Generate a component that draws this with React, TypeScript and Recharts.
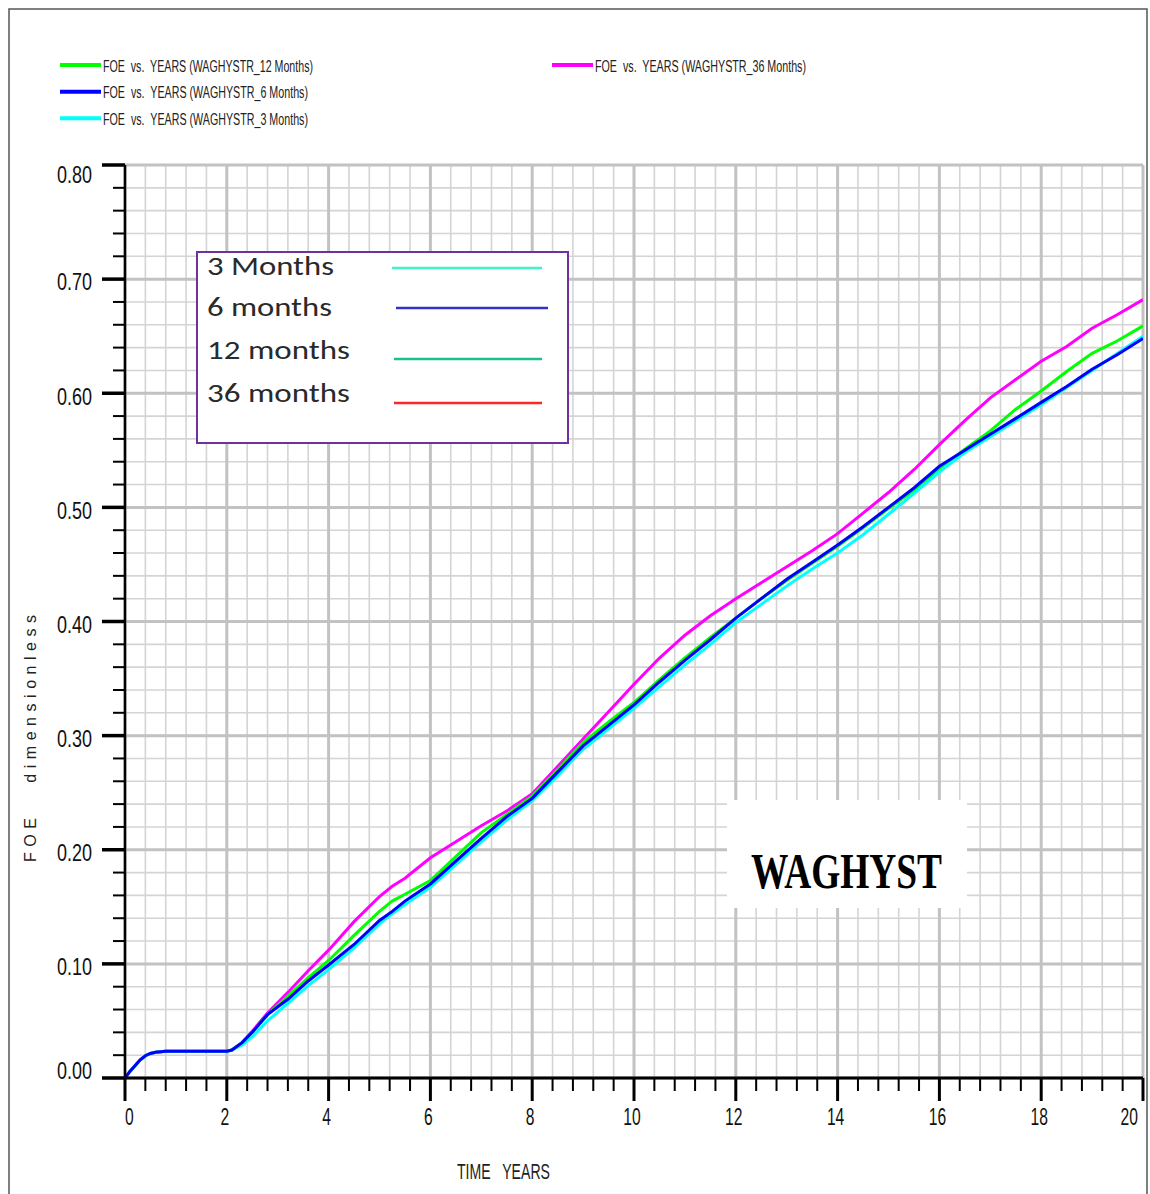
import React from "react";
import { LineChart, Line, XAxis, YAxis, CartesianGrid } from "recharts";

// Simulation time (years) and field oil efficiency (FOE) for each WAG cycle length
const years = [
  0, 0.1, 0.2, 0.3, 0.4, 0.5, 0.6, 0.8, 2.0, 2.1, 2.3, 2.5, 2.8, 3.2, 3.6, 4, 4.5, 5, 5.25, 5.5,
  6, 6.5, 7, 7.5, 8, 8.5, 9, 9.5, 10, 10.5, 11, 11.5, 12, 12.5, 13, 13.5, 14, 14.5, 15, 15.5,
  16, 16.5, 17, 17.5, 18, 18.5, 19, 19.5, 20,
];
const foe36Months = [
  0, 0.006, 0.011, 0.016, 0.0195, 0.0215, 0.0225, 0.0235, 0.0235, 0.0245, 0.031, 0.041, 0.057,
  0.075, 0.094, 0.112, 0.137, 0.159, 0.168, 0.175, 0.193, 0.207, 0.221, 0.234, 0.249, 0.273,
  0.297, 0.321, 0.345, 0.368, 0.388, 0.405, 0.42, 0.434, 0.448, 0.462, 0.477, 0.495, 0.513,
  0.533, 0.555, 0.576, 0.596, 0.612, 0.628, 0.641, 0.657, 0.669, 0.682,
];
const foe12Months = [
  0, 0.006, 0.011, 0.016, 0.0195, 0.0215, 0.0225, 0.0235, 0.0235, 0.0245, 0.031, 0.04, 0.0555,
  0.0715, 0.088, 0.103, 0.125, 0.146, 0.155, 0.161, 0.173, 0.194, 0.215, 0.231, 0.247, 0.27,
  0.294, 0.312, 0.329, 0.349, 0.368, 0.386, 0.403, 0.42, 0.436, 0.451, 0.466, 0.482, 0.499,
  0.515, 0.534, 0.551, 0.567, 0.586, 0.602, 0.619, 0.635, 0.646, 0.659,
];
const foe6Months = [
  0, 0.006, 0.011, 0.016, 0.0195, 0.0215, 0.0225, 0.0235, 0.0235, 0.0245, 0.031, 0.04, 0.0555,
  0.069, 0.085, 0.099, 0.117, 0.138, 0.146, 0.155, 0.17, 0.19, 0.21, 0.229, 0.245, 0.268, 0.291,
  0.309, 0.327, 0.347, 0.366, 0.384, 0.403, 0.42, 0.437, 0.452, 0.467, 0.483, 0.5, 0.517, 0.536,
  0.55, 0.564, 0.578, 0.592, 0.606, 0.621, 0.634, 0.648,
];
const foe3Months = [
  0, 0.006, 0.011, 0.016, 0.0195, 0.0215, 0.0225, 0.0235, 0.0235, 0.0245, 0.029, 0.036, 0.05,
  0.0655, 0.081, 0.095, 0.114, 0.135, 0.144, 0.152, 0.167, 0.187, 0.207, 0.226, 0.243, 0.265,
  0.288, 0.306, 0.324, 0.343, 0.362, 0.38, 0.399, 0.415, 0.431, 0.446, 0.46, 0.476, 0.494,
  0.512, 0.531, 0.548, 0.562, 0.576, 0.59, 0.605, 0.62, 0.635, 0.65,
];

// Axis ticks: minor every 0.4 years / 0.02 FOE, major every 2 years / 0.10 FOE
const xTicks = Array.from({ length: 51 }, (_, i) => (i * 4) / 10);
const xMajorTicks = Array.from({ length: 11 }, (_, i) => i * 2);
const yTicks = Array.from({ length: 41 }, (_, i) => (i * 2) / 100);
const yMajorTicks = Array.from({ length: 9 }, (_, i) => i / 10);

const seriesLabels = [
  "FOE  vs.  YEARS (WAGHYSTR_12 Months)",
  "FOE  vs.  YEARS (WAGHYSTR_6 Months)",
  "FOE  vs.  YEARS (WAGHYSTR_3 Months)",
  "FOE  vs.  YEARS (WAGHYSTR_36 Months)",
];
const boxLabels = ["3 Months", "6 months", "12 months", "36 months"];

const data = years.map((t, i) => ({
  t,
  m36: foe36Months[i],
  m12: foe12Months[i],
  m6: foe6Months[i],
  m3: foe3Months[i],
}));

const NARROW = "'Liberation Sans Narrow', 'Arial Narrow', 'Liberation Sans', Arial, sans-serif";
const isMajor = (v: number, step: number) => Math.abs(v / step - Math.round(v / step)) < 1e-6;

const XTick = (props: any) => {
  const { x, y, payload } = props;
  const v = payload.value as number;
  const major = isMajor(v, 2);
  const label = String(Math.round(v));
  const w = label.length * 8.7;
  let cx = x - 2;
  if (cx - w / 2 < 125) cx = 125 + w / 2;
  if (cx + w / 2 > 1138) cx = 1138 - w / 2;
  return (
    <g>
      <line x1={x} x2={x} y1={y} y2={y + (major ? 23 : 13)} stroke="#000" strokeWidth={major ? 3 : 2} />
      {major && (
        <text
          x={cx}
          y={y + 47}
          textAnchor="middle"
          fontFamily={NARROW}
          fontSize={23}
          fill="#111"
          textLength={w}
          lengthAdjust="spacingAndGlyphs"
        >
          {label}
        </text>
      )}
    </g>
  );
};

const YTick = (props: any) => {
  const { x, y, payload } = props;
  const v = payload.value as number;
  const major = isMajor(v, 0.1);
  let center = y + 3;
  if (v >= 0.8 - 1e-9) center = y + 10;
  if (v <= 1e-9) center = y - 7;
  return (
    <g>
      <line x1={x - (major ? 23 : 12)} x2={x} y1={y} y2={y} stroke="#000" strokeWidth={major ? 3.5 : 2} />
      {major && (
        <text
          x={x - 33}
          y={center + 8.3}
          textAnchor="end"
          fontFamily={NARROW}
          fontSize={23}
          fill="#111"
          textLength={35}
          lengthAdjust="spacingAndGlyphs"
        >
          {v.toFixed(2)}
        </text>
      )}
    </g>
  );
};

const seriesColors = ["#00ff00", "#0000ff", "#00ffff", "#ff00ff"];
const boxColors = ["#40f2cf", "#3434c2", "#1dbf8e", "#ff2626"];

const Overlay = () => {
  const topRows = [
    { x: 60, y: 65, w: 210 },
    { x: 60, y: 91.7, w: 205 },
    { x: 60, y: 118.3, w: 205 },
    { x: 552, y: 65, w: 211 },
  ];
  const boxRows = [
    { base: 275, w: 127, lx1: 392, lx2: 542, ly: 268 },
    { base: 316, w: 125, lx1: 396, lx2: 548, ly: 308 },
    { base: 359, w: 143, lx1: 394, lx2: 542, ly: 359 },
    { base: 401.5, w: 143, lx1: 394, lx2: 542, ly: 403 },
  ];
  return (
    <svg
      width={1150}
      height={1194}
      style={{ position: "absolute", left: 0, top: 0, pointerEvents: "none" }}
    >
      {/* page frame */}
      <path d="M9 1194 V9 H1147 V1194" fill="none" stroke="#555" strokeWidth={1.5} />

      {/* series key */}
      {seriesLabels.map((label, i) => {
        const r = topRows[i];
        return (
          <g key={label}>
            <line x1={r.x} x2={r.x + 41} y1={r.y} y2={r.y} stroke={seriesColors[i]} strokeWidth={4} />
            <text
              x={r.x + 43}
              y={r.y + 6.5}
              fontFamily={NARROW}
              fontSize={16}
              fill="#222"
              textLength={r.w}
              lengthAdjust="spacingAndGlyphs"
              style={{ whiteSpace: "pre" }}
            >
              {label}
            </text>
          </g>
        );
      })}

      {/* cycle-length key box */}
      <rect x={197} y={252} width={371} height={191} fill="#fff" stroke="#7030a0" strokeWidth={2} />
      {boxLabels.map((label, i) => {
        const r = boxRows[i];
        return (
          <g key={label}>
            <text
              x={207}
              y={r.base}
              fontFamily="Carlito, Lato, 'Open Sans', sans-serif"
              fontSize={27}
              fill="#2a2a2a"
              textLength={r.w}
              lengthAdjust="spacingAndGlyphs"
            >
              {label}
            </text>
            <line x1={r.lx1} x2={r.lx2} y1={r.ly} y2={r.ly} stroke={boxColors[i]} strokeWidth={2.5} />
          </g>
        );
      })}

      {/* case name */}
      <rect x={727} y={800} width={240} height={108} fill="#fff" />
      <text
        x={751}
        y={888}
        fontFamily="'Liberation Serif', 'Times New Roman', serif"
        fontWeight="bold"
        fontSize={51}
        fill="#000"
        textLength={191}
        lengthAdjust="spacingAndGlyphs"
      >
        WAGHYST
      </text>

      {/* axis titles */}
      <text
        x={457}
        y={1179}
        fontFamily={NARROW}
        fontSize={22}
        fill="#222"
        textLength={93}
        lengthAdjust="spacingAndGlyphs"
        style={{ whiteSpace: "pre" }}
      >
        TIME   YEARS
      </text>
      <text
        transform="translate(36 862) rotate(-90)"
        x={0}
        y={0}
        fontFamily="'Liberation Sans', Arial, sans-serif"
        fontSize={16}
        fill="#222"
        textLength={247}
        lengthAdjust="spacing"
        style={{ whiteSpace: "pre" }}
      >
        FOE   dimensionless
      </text>
    </svg>
  );
};

export default function App() {
  return (
    <div style={{ position: "absolute", left: 0, top: 0, width: 1150, height: 1194, background: "#fff" }}>
      <LineChart
        width={1150}
        height={1194}
        data={data}
        margin={{ top: 165, right: 7, bottom: 76, left: 0 }}
      >
        <CartesianGrid
          verticalValues={xTicks}
          horizontalValues={yTicks}
          stroke="#d4d4d4"
          strokeWidth={1.6}
        />
        <CartesianGrid
          verticalValues={xMajorTicks}
          horizontalValues={yMajorTicks}
          stroke="#c2c2c2"
          strokeWidth={3}
        />
        <XAxis
          dataKey="t"
          type="number"
          domain={[0, 20]}
          ticks={xTicks}
          interval={0}
          height={40}
          tickSize={0}
          tickMargin={0}
          tick={<XTick />}
          axisLine={{ stroke: "#000", strokeWidth: 3 }}
          tickLine={false}
          allowDataOverflow
        />
        <YAxis
          type="number"
          domain={[0, 0.8]}
          ticks={yTicks}
          interval={0}
          width={125}
          tickSize={0}
          tickMargin={0}
          tick={<YTick />}
          axisLine={{ stroke: "#000", strokeWidth: 2.5 }}
          tickLine={false}
          allowDataOverflow
        />
        <Line type="linear" dataKey="m36" stroke="#ff00ff" strokeWidth={3} dot={false} isAnimationActive={false} />
        <Line type="linear" dataKey="m12" stroke="#00ff00" strokeWidth={3} dot={false} isAnimationActive={false} />
        <Line type="linear" dataKey="m3" stroke="#00ffff" strokeWidth={3} dot={false} isAnimationActive={false} />
        <Line type="linear" dataKey="m6" stroke="#0000ff" strokeWidth={3} dot={false} isAnimationActive={false} />
      </LineChart>
      <Overlay />
    </div>
  );
}
